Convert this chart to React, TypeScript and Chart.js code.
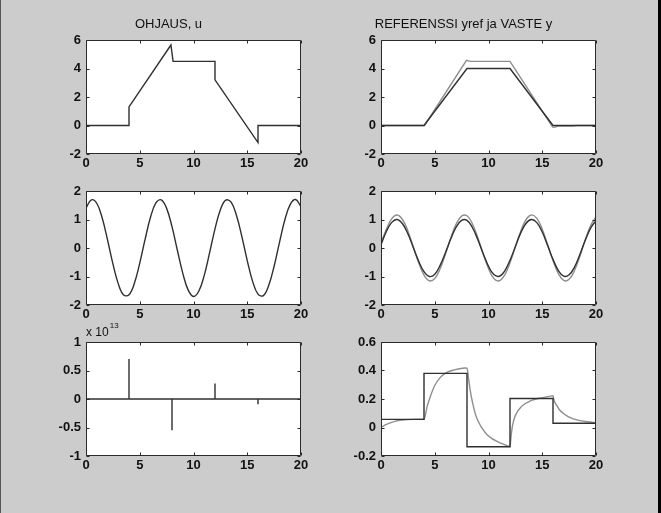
import React, { useEffect, useRef } from 'react';
import { Chart, registerables } from 'chart.js';

Chart.register(...registerables);

// ---------------- data ----------------
const X_MIN = 0;
const X_MAX = 20;
const X_STEP = 5;

// OHJAUS, u  (top left)
const uRampT = [0, 4, 4, 7.9, 8.1, 12, 12, 16, 16, 20];
const uRampV = [0, 0, 1.3, 5.65, 4.5, 4.5, 3.2, -1.2, 0, 0];

// REFERENSSI yref ja VASTE y (top right)
const yrefRampT = [0, 4, 8, 12, 16, 20];
const yrefRampV = [0, 0, 4, 4, 0, 0];
const yRampT = [0, 4.05, 7.95, 8.3, 12, 15.95, 16.1, 16.5, 17.8, 18.2, 20];
const yRampV = [0, 0, 4.57, 4.5, 4.5, -0.1, -0.13, -0.04, -0.03, 0, 0];

// sinusoid case (middle row)
const sineT = [0, 0.5, 1, 1.5, 2, 2.5, 3, 3.5, 4, 4.5, 5, 5.5, 6, 6.5, 7, 7.5, 8, 8.5, 9, 9.5, 10, 10.5, 11, 11.5, 12, 12.5, 13, 13.5, 14, 14.5, 15, 15.5, 16, 16.5, 17, 17.5, 18, 18.5, 19, 19.5, 20];
const uSineV = [1.40, 1.69, 1.57, 1.06, 0.29, -0.55, -1.25, -1.65, -1.64, -1.24, -0.53, 0.31, 1.08, 1.58, 1.69, 1.39, 0.75, -0.08, -0.88, -1.47, -1.70, -1.51, -0.96, -0.16, 0.67, 1.34, 1.68, 1.61, 1.14, 0.40, -0.44, -1.17, -1.62, -1.67, -1.31, -0.64, 0.20, 0.99, 1.53, 1.70, 1.45];
const yrefSineV = [0.12, 0.58, 0.90, 1.00, 0.85, 0.50, 0.02, -0.46, -0.83, -1.00, -0.92, -0.61, -0.16, 0.33, 0.74, 0.97, 0.97, 0.72, 0.30, -0.19, -0.64, -0.93, -0.99, -0.81, -0.43, 0.05, 0.53, 0.87, 1.00, 0.89, 0.56, 0.09, -0.40, -0.79, -0.99, -0.94, -0.67, -0.23, 0.27, 0.70, 0.96];
const ySineV = [0.18, 0.66, 1.03, 1.16, 1.00, 0.60, 0.05, -0.51, -0.95, -1.15, -1.07, -0.73, -0.21, 0.36, 0.85, 1.12, 1.13, 0.85, 0.37, -0.20, -0.72, -1.07, -1.15, -0.95, -0.52, 0.04, 0.59, 1.00, 1.16, 1.04, 0.66, 0.12, -0.44, -0.90, -1.14, -1.10, -0.79, -0.29, 0.29, 0.79, 1.10];

// step case (bottom row); impulse values are in units of 10^13
const IMPULSE_EXPONENT = 13;
const uImpT = [0, 4, 4, 4, 8, 8, 8, 12, 12, 12, 16, 16, 16, 20];
const uImpV = [0, 0, 0.70, 0, 0, -0.55, 0, 0, 0.27, 0, 0, -0.09, 0, 0];
const yrefStepT = [0, 4, 8, 12, 16, 20];
const yrefStepV = [0.057, 0.38, -0.135, 0.203, 0.03, 0.03];
const yStepT = [0, 0.5, 1, 1.5, 2, 3, 4, 4.3, 4.6, 5, 5.5, 6, 6.9, 7.8, 8, 8.15, 8.3, 8.5, 8.8, 9.1, 9.4, 9.8, 10.3, 10.8, 11.3, 11.9, 12, 12.1, 12.25, 12.5, 13.1, 14, 14.7, 15.3, 15.9, 16, 16.1, 16.3, 16.6, 17, 17.5, 18.4, 19.2, 20];
const yStepV = [0, 0.022, 0.036, 0.047, 0.053, 0.057, 0.058, 0.15, 0.22, 0.295, 0.35, 0.382, 0.406, 0.418, 0.416, 0.34, 0.26, 0.18, 0.09, 0.035, -0.005, -0.045, -0.076, -0.097, -0.115, -0.132, -0.134, -0.06, 0.02, 0.085, 0.15, 0.19, 0.205, 0.213, 0.222, 0.223, 0.19, 0.16, 0.125, 0.097, 0.073, 0.05, 0.04, 0.033];

// ---------------- styling ----------------
const FONT = '"Liberation Sans", Arial, Helvetica, sans-serif';
const DARK = '#303030';
const GRAY = '#8e8e8e';
const TEXT = '#111111';
const FIG_BG = '#cccccc';

type Series = { xs: number[]; ys: number[]; color: string; stepped?: boolean; smooth?: 'sine' | 'mono' };
type Panel = {
  key: string;
  area: [number, number, number, number]; // left, top, right, bottom of the axes box (px)
  title?: string;
  titleCx?: number;
  yMin: number;
  yMax: number;
  yStep: number;
  exponent?: number;
  series: Series[];
};

const PANELS: Panel[] = [
  {
    key: 'tl', area: [86, 40, 301, 153.5], title: 'OHJAUS, u', titleCx: 184,
    yMin: -2, yMax: 6, yStep: 2,
    series: [{ xs: uRampT, ys: uRampV, color: DARK }],
  },
  {
    key: 'tr', area: [381, 40, 596, 153.5], title: 'REFERENSSI yref ja VASTE y', titleCx: 478,
    yMin: -2, yMax: 6, yStep: 2,
    series: [
      { xs: yrefRampT, ys: yrefRampV, color: DARK },
      { xs: yRampT, ys: yRampV, color: GRAY },
    ],
  },
  {
    key: 'ml', area: [86, 190.5, 301, 304.5],
    yMin: -2, yMax: 2, yStep: 1,
    series: [{ xs: sineT, ys: uSineV, color: DARK, smooth: 'sine' }],
  },
  {
    key: 'mr', area: [381, 190.5, 596, 304.5],
    yMin: -2, yMax: 2, yStep: 1,
    series: [
      { xs: sineT, ys: yrefSineV, color: DARK, smooth: 'sine' },
      { xs: sineT, ys: ySineV, color: GRAY, smooth: 'sine' },
    ],
  },
  {
    key: 'bl', area: [86, 342, 301, 456],
    yMin: -1, yMax: 1, yStep: 0.5, exponent: IMPULSE_EXPONENT,
    series: [{ xs: uImpT, ys: uImpV, color: DARK }],
  },
  {
    key: 'br', area: [381, 342, 596, 456],
    yMin: -0.2, yMax: 0.6, yStep: 0.2,
    series: [
      { xs: yrefStepT, ys: yrefStepV, color: DARK, stepped: true },
      { xs: yStepT, ys: yStepV, color: GRAY, smooth: 'mono' },
    ],
  },
];

const Y_AXIS_W = 50;
const X_AXIS_H = 24;
const TICK_LEN = 3;

const fmt = (v: any) => String(Number(Number(v).toFixed(3)));

const framePlugin = {
  id: 'matlabFrame',
  beforeDraw(chart: any) {
    const { ctx, chartArea: a } = chart;
    ctx.save();
    ctx.fillStyle = '#ffffff';
    ctx.fillRect(a.left, a.top, a.right - a.left, a.bottom - a.top);
    ctx.restore();
  },
  afterDraw(chart: any) {
    const { ctx, chartArea: a, scales } = chart;
    const l = Math.round(a.left) + 0.5;
    const r = Math.round(a.right) - 0.5;
    const t = Math.round(a.top) + 0.5;
    const b = Math.round(a.bottom) - 0.5;
    ctx.save();
    ctx.strokeStyle = '#2a2a2a';
    ctx.lineWidth = 1;
    ctx.beginPath();
    ctx.rect(l, t, r - l, b - t);
    scales.x.ticks.forEach((tk: any) => {
      const px = Math.round(scales.x.getPixelForValue(tk.value)) + 0.5;
      ctx.moveTo(px, b); ctx.lineTo(px, b - TICK_LEN);
      ctx.moveTo(px, t); ctx.lineTo(px, t + TICK_LEN);
    });
    scales.y.ticks.forEach((tk: any) => {
      const py = Math.round(scales.y.getPixelForValue(tk.value)) + 0.5;
      ctx.moveTo(l, py); ctx.lineTo(l + TICK_LEN, py);
      ctx.moveTo(r, py); ctx.lineTo(r - TICK_LEN, py);
    });
    ctx.stroke();
    const exp = chart.options.plugins.matlabFrame?.exponent;
    if (exp) {
      ctx.fillStyle = TEXT;
      ctx.textBaseline = 'alphabetic';
      ctx.textAlign = 'left';
      ctx.font = `12px ${FONT}`;
      const base = 'x 10';
      ctx.fillText(base, a.left, a.top - 6);
      const w = ctx.measureText(base).width;
      ctx.font = `8px ${FONT}`;
      ctx.fillText(String(exp), a.left + w + 1, a.top - 14);
    }
    ctx.restore();
  },
};

function PanelChart({ panel }: { panel: Panel }) {
  const ref = useRef<HTMLCanvasElement>(null);
  const [L, T, R, B] = panel.area;
  const hasTitle = !!panel.title;
  const topSpace = hasTitle ? 23 : 26;
  const padR = hasTitle ? 2 * ((panel.titleCx as number) - (L - Y_AXIS_W)) - Y_AXIS_W - (R - L) : 20;
  const left = L - Y_AXIS_W;
  const top = T - topSpace;
  const width = Math.round(Y_AXIS_W + (R - L) + padR);
  const height = Math.round(topSpace + (B - T) + X_AXIS_H);

  useEffect(() => {
    const canvas = ref.current;
    if (!canvas) return;
    const tickFont = { family: FONT, size: 13, weight: 'bold' as const };
    const chart = new Chart(canvas, {
      type: 'line',
      data: {
        datasets: panel.series.map((s) => ({
          data: s.xs.map((x, i) => ({ x, y: s.ys[i] })),
          borderColor: s.color,
          borderWidth: 1.4,
          pointRadius: 0,
          fill: false,
          stepped: s.stepped ? 'before' : false,
          cubicInterpolationMode: s.smooth === 'mono' ? 'monotone' : 'default',
          tension: s.smooth === 'sine' ? 0.4 : 0,
        })) as any,
      },
      options: {
        animation: false,
        responsive: false,
        maintainAspectRatio: false,
        devicePixelRatio: 1,
        layout: { padding: { left: 0, right: padR, top: hasTitle ? 0 : topSpace, bottom: 0 } },
        plugins: {
          legend: { display: false },
          tooltip: { enabled: false },
          title: {
            display: hasTitle,
            text: panel.title || '',
            color: TEXT,
            font: { family: FONT, size: 13, weight: 'normal', lineHeight: 1.2 },
            padding: { top: 0, bottom: topSpace - 15.6 },
          },
          matlabFrame: { exponent: panel.exponent },
        } as any,
        scales: {
          x: {
            type: 'linear',
            min: X_MIN,
            max: X_MAX,
            ticks: { stepSize: X_STEP, padding: 2, font: tickFont, color: TEXT, autoSkip: false, maxRotation: 0, callback: fmt },
            grid: { display: false, drawTicks: false },
            border: { display: false },
            afterFit: (s: any) => { s.height = X_AXIS_H; },
          },
          y: {
            type: 'linear',
            min: panel.yMin,
            max: panel.yMax,
            ticks: { stepSize: panel.yStep, padding: 5, font: tickFont, color: TEXT, autoSkip: false, callback: fmt },
            grid: { display: false, drawTicks: false },
            border: { display: false },
            afterFit: (s: any) => { s.width = Y_AXIS_W; },
          },
        },
      },
      plugins: [framePlugin],
    });
    return () => chart.destroy();
  }, []);

  return (
    <canvas
      ref={ref}
      width={width}
      height={height}
      style={{ position: 'absolute', left, top, width, height }}
    />
  );
}

export default function App() {
  return (
    <div
      style={{
        position: 'fixed',
        left: 0,
        top: 0,
        width: 661,
        height: 513,
        background: FIG_BG,
        overflow: 'hidden',
      }}
    >
      <div style={{ position: 'absolute', left: 0, top: 0, width: 1, height: 513, background: '#555' }} />
      <div style={{ position: 'absolute', left: 658, top: 0, width: 3, height: 513, background: '#000' }} />
      {PANELS.map((p) => (
        <PanelChart key={p.key} panel={p} />
      ))}
    </div>
  );
}
